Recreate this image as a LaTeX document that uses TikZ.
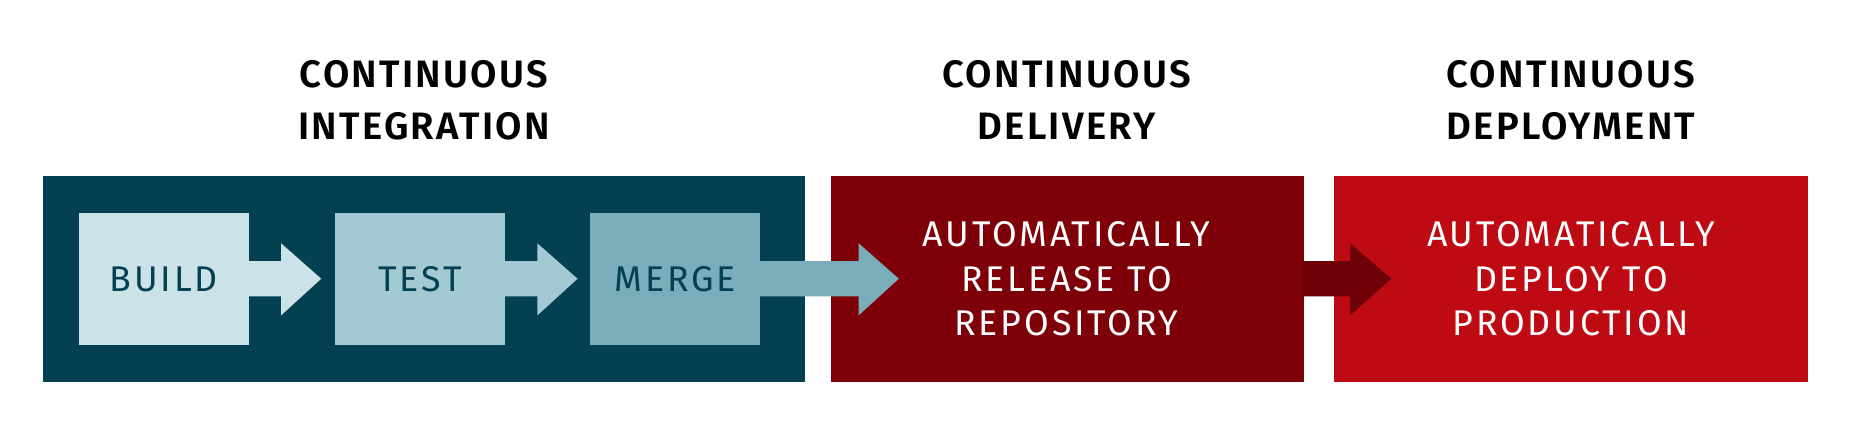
\documentclass[tikz,border=0pt]{standalone}
\usepackage{fontspec}
\setmainfont{Fira Sans}
\newfontfamily\ttl[LetterSpace=6]{Fira Sans SemiBold}
\newfontfamily\bxf[LetterSpace=8]{Fira Sans}
\definecolor{ci}{HTML}{024052}
\definecolor{cb}{HTML}{CAE2E8}
\definecolor{ct}{HTML}{A3C9D3}
\definecolor{cmrg}{HTML}{79ADB9}
\definecolor{cdl}{HTML}{7E0009}
\definecolor{cdp}{HTML}{BD0A13}
\definecolor{car}{HTML}{6E0008}
\begin{document}
\begin{tikzpicture}[x=0.01cm,y=-0.01cm,
  title/.style={font=\ttl\fontsize{9.2}{12.5}\selectfont, align=center, text=black},
  btxt/.style={font=\bxf\fontsize{8.6}{10.8}\selectfont, align=center},
  stepbox/.style={minimum width=144*0.01cm, minimum height=111*0.01cm, inner sep=0, anchor=north west}]
\useasboundingbox (0,0) rectangle (1568,373);
% big boxes
\node[fill=ci, minimum width=645*0.01cm, minimum height=175*0.01cm, inner sep=0, anchor=north west] (ci) at (36,148) {};
\node[fill=cdl, minimum width=400*0.01cm, minimum height=175*0.01cm, inner sep=0, anchor=north west] (dl) at (703,148) {};
\node[fill=cdp, minimum width=401*0.01cm, minimum height=175*0.01cm, inner sep=0, anchor=north west] (dp) at (1129,148) {};
% arrows
\fill[cb] (209,221) -- (238,221) -- (238,206) -- (272,236) -- (238,267) -- (238,251) -- (209,251) -- cycle;
\fill[ct] (426,221) -- (455,221) -- (455,206) -- (489,236) -- (455,267) -- (455,251) -- (426,251) -- cycle;
\fill[cmrg] (643,221) -- (727,221) -- (727,206) -- (761,236) -- (727,267) -- (727,251) -- (643,251) -- cycle;
\fill[car] (1103,221) -- (1143,221) -- (1143,206) -- (1178,236) -- (1143,267) -- (1143,251) -- (1103,251) -- cycle;
% steps
\node[stepbox, fill=cb] (b) at (66,180) {};
\node[stepbox, fill=ct] (t) at (283,180) {};
\node[stepbox, fill=cmrg] (m) at (499,180) {};
\node[btxt, text=ci] at (b.center) {BUILD};
\node[btxt, text=ci] at (t.center) {TEST};
\node[btxt, text=ci] at (m.center) {MERGE};
\node[btxt, text=white] (dlt) at (903,236) {AUTOMATICALLY\\RELEASE TO\\REPOSITORY};
\node[btxt, text=white] (dpt) at (1330,236) {AUTOMATICALLY\\DEPLOY TO\\PRODUCTION};
% titles
\node[title] (t1) at (359,85) {CONTINUOUS\\INTEGRATION};
\node[title] (t2) at (903,85) {CONTINUOUS\\DELIVERY};
\node[title] (t3) at (1330,85) {CONTINUOUS\\DEPLOYMENT};
\end{tikzpicture}
\end{document}
